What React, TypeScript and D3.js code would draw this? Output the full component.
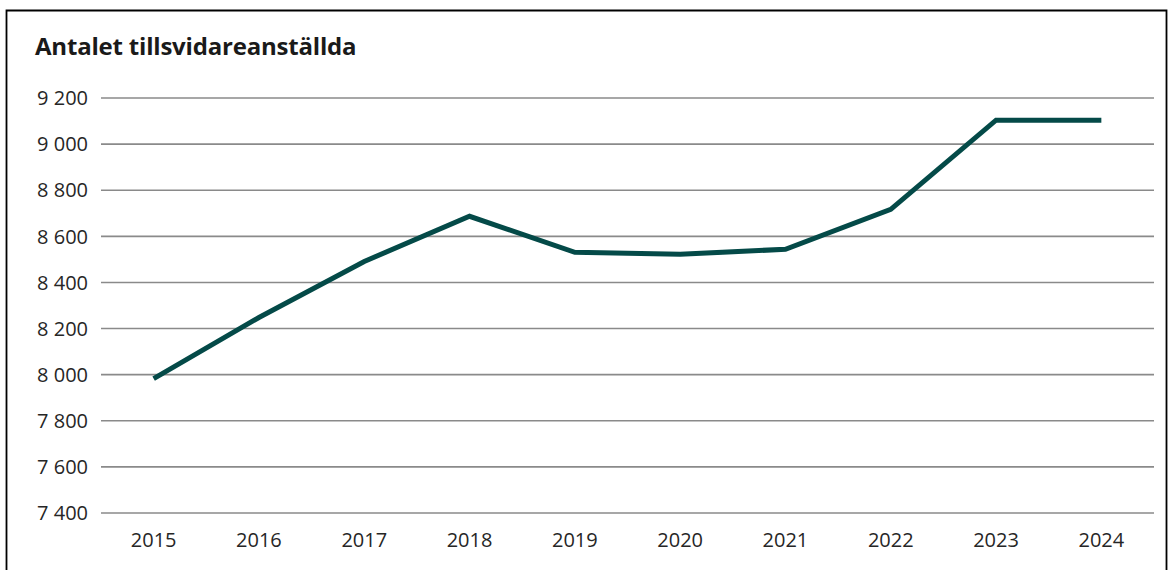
import React from "react";
import * as d3 from "d3";

const years = ["2015", "2016", "2017", "2018", "2019", "2020", "2021", "2022", "2023", "2024"];
const employees = [7983, 8248, 8491, 8687, 8531, 8522, 8544, 8717, 9104, 9104];
const yTicks = [7400, 7600, 7800, 8000, 8200, 8400, 8600, 8800, 9000, 9200];
const title = "Antalet tillsvidareanställda";

const W = 1168;
const H = 570;
const left = 101;
const right = 1154;
const top = 98;
const bottom = 513;

export default function App() {
  const x = d3.scaleBand<string>().domain(years).range([left, right]);
  const y = d3.scaleLinear().domain([7400, 9200]).range([bottom, top]);
  const fmt = (v: number) => d3.format(",")(v).replace(",", " ");
  const line = d3
    .line<number>()
    .x((_, i) => (x(years[i]) as number) + x.bandwidth() / 2)
    .y((d) => y(d));
  const font = "'Open Sans', 'Noto Sans', sans-serif";
  return (
    <svg
      width={W}
      height={H}
      style={{ position: "absolute", left: 0, top: 0, background: "#fff" }}
      fontFamily={font}
    >
      <rect x={0} y={0} width={W} height={H} fill="#fff" />
      <path d={`M6.5,${H} V10.5 H1166.5 V${H}`} fill="none" stroke="#000" strokeWidth={1.8} />
      <text x={35} y={55} fontSize={24} fontWeight={700} fill="#1a1a1a" letterSpacing={-0.2}>
        {title}
      </text>
      {yTicks.map((t) => (
        <g key={t}>
          <line x1={left} x2={right} y1={y(t)} y2={y(t)} stroke="#8a8a8a" strokeWidth={1.6} />
          <text x={88} y={y(t)} dy="0.36em" textAnchor="end" fontSize={20} fill="#262626">
            {fmt(t)}
          </text>
        </g>
      ))}
      {years.map((yr) => (
        <text
          key={yr}
          x={(x(yr) as number) + x.bandwidth() / 2}
          y={547}
          textAnchor="middle"
          fontSize={20}
          fill="#262626"
        >
          {yr}
        </text>
      ))}
      <path d={line(employees) || ""} fill="none" stroke="#044a48" strokeWidth={5} strokeLinejoin="miter" />
    </svg>
  );
}
